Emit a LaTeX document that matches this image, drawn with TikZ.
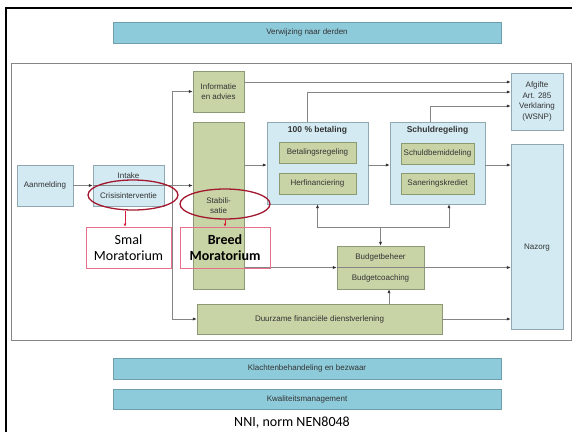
\documentclass[tikz,border=0pt]{standalone}
\usepackage{fontspec}
\setmainfont{Liberation Sans}
\newfontfamily\calibri{Carlito}
\usetikzlibrary{positioning,arrows.meta,shapes.geometric}

\definecolor{barblue}{HTML}{8ECBDA}
\definecolor{barline}{HTML}{6E9FAE}
\definecolor{boxblue}{HTML}{D3EAF2}
\definecolor{blueline}{HTML}{8FA8B2}
\definecolor{boxgreen}{HTML}{C8D3A6}
\definecolor{greenline}{HTML}{8C9A74}
\definecolor{linegray}{HTML}{858585}
\definecolor{ringred}{HTML}{A3182E}
\definecolor{arrred}{HTML}{D81E3C}
\definecolor{pinkline}{HTML}{E8708A}

\begin{document}
\begin{tikzpicture}[x=1pt,y=-1pt,
  wh/.style 2 args={minimum width=#1, minimum height=#2},
  txt/.style={font=\fontsize{8}{10.5}\selectfont, text=black!80, align=center, inner sep=0pt},
  bar/.style={txt, draw=barline, fill=barblue, wh={388pt}{21pt}},
  bluebox/.style={txt, draw=blueline, fill=boxblue},
  greenbox/.style={txt, draw=greenline, fill=boxgreen},
  kop/.style={txt, font=\fontsize{8.5}{10}\selectfont\bfseries},
  conn/.style={draw=linegray, line width=0.7pt},
  arr/.style={conn, -{Latex[length=4pt,width=3.2pt,color=black!80]}},
  mora/.style={draw=pinkline, line width=0.6pt, align=center, inner sep=0pt,
    font=\calibri\fontsize{14}{16}\selectfont},
  ring/.style={ellipse, draw=ringred, line width=1.3pt, wh={90pt}{30pt}},
  redarr/.style={draw=arrred, line width=0.6pt, -{Latex[length=3pt,width=3pt]}}]

\useasboundingbox (0,0) rectangle (572,432);
\draw[line width=2.5pt] (6,432) -- (6,8) -- (572,8);

\node[bar] (verwijzing) at (307,32.5) {Verwijzing naar derden};
\node[draw=linegray, line width=0.8pt, wh={560pt}{277pt}] (kader) at (291,201.5) {};

\node[bluebox, wh={56pt}{41pt}] (aanmelding) at (45,185.5) {Aanmelding};
\node[bluebox, wh={71pt}{41pt}] (intake) at (128.5,185.5) {Intake\\[9.5pt]Crisisinterventie};
\node[greenbox, wh={51pt}{41pt}] (info) at (218.5,91.5) {Informatie\\en advies};
\node[greenbox, wh={51pt}{167pt}] (stab) at (218.5,205.5) {Stabili-\\satie};

\node[bluebox, wh={101pt}{82pt}] (betaling) at (317.5,163) {};
\node[kop, below=4.5pt of betaling.north] (betalingkop) {100 \% betaling};
\node[greenbox, wh={77pt}{21pt}] (betregeling) at (317.5,152.5) {Betalingsregeling};
\node[greenbox, wh={77pt}{21pt}, below=10pt of betregeling] (herfin) {Herfinanciering};

\node[bluebox, wh={95pt}{82pt}] (schuld) at (437.5,163) {};
\node[kop, below=4.5pt of schuld.north] (schuldkop) {Schuldregeling};
\node[greenbox, wh={73pt}{21pt}] (schuldbem) at (437.5,153.5) {Schuldbemiddeling};
\node[greenbox, wh={73pt}{21pt}, below=9pt of schuldbem] (sanering) {Saneringskrediet};

\node[bluebox, wh={52pt}{57pt}] (afgifte) at (537,101.5) {Afgifte\\Art. 285\\Verklaring\\(WSNP)};
\node[bluebox, wh={52pt}{185pt}] (nazorg) at (537,236.5) {};
\node[txt] (nazorgtekst) at (537,248) {Nazorg};

\node[greenbox, wh={87pt}{43pt}] (budget) at (380.5,267.5) {Budgetbeheer\\[10.5pt]Budgetcoaching};
\node[greenbox, wh={245pt}{30pt}] (duurzaam) at (319.5,319) {Duurzame financi\"ele dienstverlening};

\node[bar] (klacht) at (307,368.5) {Klachtenbehandeling en bezwaar};
\node[bar, wh={388pt}{20pt}] (kwaliteit) at (307,399) {Kwaliteitsmanagement};

\draw[arr] (aanmelding) -- (intake);
\draw[arr] (intake.west) -- (intake.west -| stab.west);
\coordinate (stam) at (172,0);
\draw[arr] (stam |- duurzaam.west) |- (info.west);
\draw[arr] (stam |- duurzaam.west) -- (duurzaam.west);

\draw[arr] ([yshift=9.5pt]info.east) -- ([yshift=9.5pt]info.east -| afgifte.west);
\draw[arr] ([xshift=-10.5pt]betaling.north) |- ([yshift=9.5pt]afgifte.west);
\draw[arr] ([xshift=-7.5pt]schuld.north) |- ([yshift=-4.5pt]afgifte.west);

\draw[arr] ([yshift=-2pt]betaling.west -| stab.east) -- ([yshift=-2pt]betaling.west);
\draw[arr] ([yshift=-2pt]betaling.east) -- ([yshift=-2pt]schuld.west);
\draw[arr] ([yshift=-2pt]schuld.east) -- ([yshift=-2pt]schuld.east -| nazorg.west);

\coordinate (splits) at ([yshift=18pt]budget.north);
\draw[arr] (splits) -- (budget.north);
\draw[arr] (splits) -| (betaling.south);
\draw[arr] (splits) -| ([xshift=11.5pt]schuld.south);

\draw[arr] (budget.west -| stab.east) -- (budget.west);
\draw[arr] (budget.west) -- (budget.east -| nazorg.west);
\draw[arr] ([xshift=8.5pt]budget.south |- duurzaam.north) -- ([xshift=8.5pt]budget.south);
\draw[arr] (duurzaam.east) -- (duurzaam.east -| nazorg.west);

\node[mora, wh={85pt}{41pt}] (smal) at (128.5,247.5) {Smal\\Moratorium};
\node[mora, wh={90pt}{41pt}, font=\calibri\fontsize{14}{16}\selectfont\bfseries] (breed) at (225,247.5) {Breed\\Moratorium};
\node[ring] (ring1) at (133,195) {};
\node[ring] (ring2) at (225,204) {};
\draw[redarr] ([xshift=-8pt]ring1.south) -- ([xshift=-8pt]ring1.south |- smal.north);
\draw[redarr] (ring2.south) -- (ring2.south |- breed.north);

\node[inner sep=0pt, font=\calibri\fontsize{14}{16}\selectfont] (bron) at (292,423) {NNI, norm NEN8048};
\end{tikzpicture}
\end{document}
